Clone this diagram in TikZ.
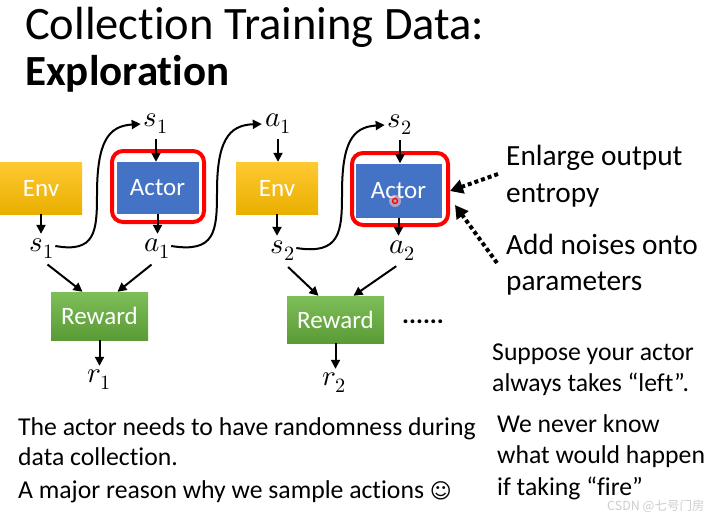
\documentclass[tikz,border=0pt]{standalone}
\usepackage{fontspec}
\usepackage{unicode-math}
\setmainfont{Carlito}[Ligatures=NoCommon]
\setmathfont{Latin Modern Math}
\newfontfamily\symfont{DejaVu Sans}
\newfontfamily\cjkfont{Noto Sans CJK SC}
\usetikzlibrary{arrows.meta}
\definecolor{envtop}{HTML}{FFC933}
\definecolor{envbot}{HTML}{E9AF00}
\definecolor{actblue}{HTML}{4472C4}
\definecolor{grntop}{HTML}{7DBE58}
\definecolor{grnbot}{HTML}{5B9B35}
\definecolor{frred}{HTML}{FF0000}
\begin{document}
\begin{tikzpicture}[x=1pt,y=-1pt,
  box/.style={minimum width=82pt,minimum height=52pt,inner sep=0pt,text=white,font=\fontsize{25}{29}\selectfont},
  envbox/.style={box,top color=envtop,bottom color=envbot},
  actbox/.style={box,fill=actblue},
  rewbox/.style={box,top color=grntop,bottom color=grnbot,minimum width=97pt,minimum height=48pt},
  redframe/.style={draw=frred,line width=4pt,rounded corners=11pt,inner sep=0pt},
  lab/.style={inner sep=1pt,font=\fontsize{29}{33}\selectfont},
  arr/.style={line width=2pt,-{Triangle[length=9pt,width=9pt]}},
  dotarr/.style={line width=4pt,dash pattern=on 4pt off 3pt,-{Triangle[length=13pt,width=14pt]}},
  txt/.style={anchor=base west,inner sep=0pt,font=\fontsize{25.7}{30}\selectfont},
  side/.style={anchor=base west,inner sep=0pt,font=\fontsize{29.3}{34}\selectfont}]
\useasboundingbox[fill=white] (0,0) rectangle (711,511);

% title
\node[anchor=base west,inner sep=0pt,font=\fontsize{46.5}{55}\selectfont] (t1) at (25,40) {Collection Training Data:};
\node[anchor=base west,inner sep=0pt,font=\fontsize{43}{52}\bfseries] (t2) at (25,85) {Exploration};

% boxes
\node[envbox] (env1) at (41,188) {Env};
\node[actbox] (act1) at (157.5,188) {Actor};
\node[envbox] (env2) at (277,188) {Env};
\node[actbox,minimum width=86pt,minimum height=54pt] (act2) at (398.5,190.5) {Actor};
\node[rewbox] (rew1) at (99.5,316) {Reward};
\node[rewbox,minimum height=47pt] (rew2) at (335.5,319.5) {Reward};

% red frames
\node[redframe,minimum width=92pt,minimum height=71pt] (fr1) at (158,186.5) {};
\node[redframe,minimum width=96pt,minimum height=72pt] (fr2) at (400,189) {};

% mouse pointer mark
\fill[red!25,opacity=0.6] (395,201) circle (6pt);
\draw[red,line width=1.3pt] (395,201) circle (2.5pt);

% labels
\node[lab] (s1t) at (156,124) {$s_1$};
\node[lab] (a1t) at (278,124) {$a_1$};
\node[lab] (s2t) at (400,125) {$s_2$};
\node[lab] (s1b) at (42,249) {$s_1$};
\node[lab] (a1b) at (157,249) {$a_1$};
\node[lab] (s2b) at (283,251) {$s_2$};
\node[lab] (a2b) at (402,251) {$a_2$};
\node[lab] (r1) at (99,380) {$r_1$};
\node[lab] (r2) at (334,383) {$r_2$};

% short vertical arrows
\draw[arr,shorten <=4pt] (s1t.south) -- (s1t.south |- act1.north);
\draw[arr] (act1.south) -- ([yshift=4pt]act1.south |- a1b.north);
\draw[arr,shorten <=4pt] (a1t.south) -- (a1t.south |- env2.north);
\draw[arr] (env1.south) -- ([yshift=4pt]env1.south |- s1b.north);
\draw[arr] (env2.south) -- ([yshift=4pt]env2.south |- s2b.north);
\draw[arr,shorten <=4pt] (s2t.south) -- (s2t.south |- act2.north);
\draw[arr] (act2.south) -- ([yshift=4pt]act2.south |- a2b.north);
\draw[arr] (rew1.south) -- ([yshift=3pt]rew1.south |- r1.north);
\draw[arr] (rew2.south) -- ([yshift=3pt]rew2.south |- r2.north);

% diagonal arrows into reward
\draw[arr,shorten <=7pt] (s1b.south) -- ([xshift=-17pt]rew1.north);
\draw[arr,shorten <=7pt] (a1b.south) -- ([xshift=18pt]rew1.north);
\draw[arr,shorten <=7pt] (s2b.south) -- ([xshift=-17pt]rew2.north);
\draw[arr,shorten <=7pt] (a2b.south) -- ([xshift=18pt]rew2.north);

% curvy arrows
\draw[arr] ([yshift=3pt]s1b.east) .. controls (95,253) and (97,232) .. (97,195)
  .. controls (97,142) and (108,126) .. ([xshift=-2pt]s1t.west);
\draw[arr] ([yshift=3pt]a1b.east) .. controls (215,253) and (217,232) .. (217,192)
  .. controls (217,142) and (228,125) .. ([xshift=-2pt]a1t.west);
\draw[arr] ([yshift=3pt]s2b.east) .. controls (340,255) and (342,232) .. (342,194)
  .. controls (342,143) and (352,127) .. ([xshift=-2pt]s2t.west);

% dotted arrows
\coordinate (d1) at (498,174);
\coordinate (d2) at (497,263);
\draw[dotarr] (d1) -- ([yshift=-2pt]fr2.east);
\draw[dotarr] (d2) -- ([shift={(5,16)}]fr2.east);

% dots
\node[inner sep=0pt,font=\fontsize{26}{30}\bfseries] (dots) at (423,322) {......};

% side texts
\node[side] (e1) at (506,165) {Enlarge output};
\node[side] (e2) at (506,202) {entropy};
\node[side] (n1) at (506,254) {Add noises onto};
\node[side] (n2) at (506,290) {parameters};

\node[txt] (p1) at (492,360) {Suppose your actor};
\node[txt] (p2) at (492,391) {always takes “left”.};
\node[txt] (w1) at (497,432) {We never know};
\node[txt] (w2) at (497,463) {what would happen};
\node[txt] (w3) at (497,495) {if taking “fire”};

\node[txt] (b1) at (18,435) {The actor needs to have randomness during};
\node[txt] (b2) at (18,465) {data collection.};
\node[txt] (b3) at (18,498) {A major reason why we sample actions {\symfont\fontsize{21}{24}\selectfont ☺}};

% watermark
\node[anchor=base west,inner sep=0pt,text=gray!55,opacity=0.7,font=\cjkfont\fontsize{12.5}{15}\selectfont] (wm) at (607,510.5) {CSDN @七号门房};
\end{tikzpicture}
\end{document}
